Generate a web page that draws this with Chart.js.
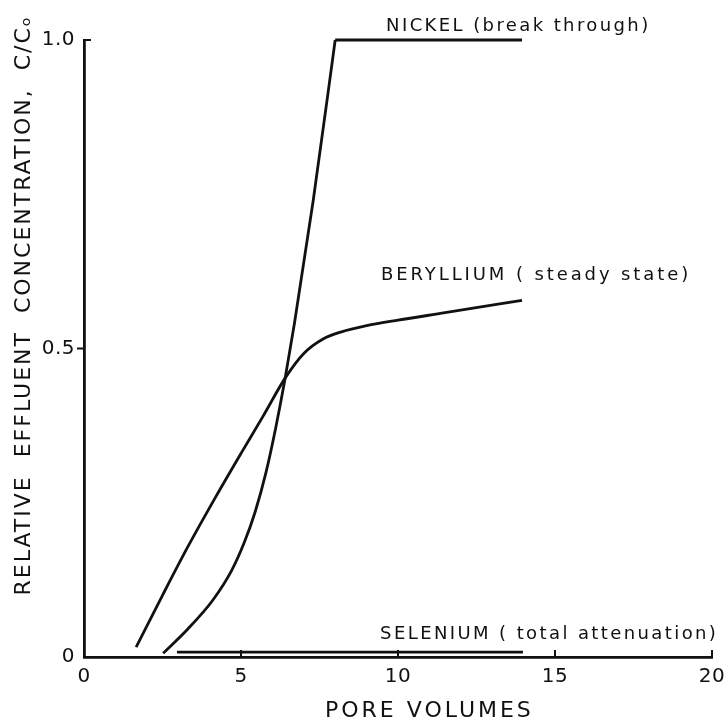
<!DOCTYPE html>
<html>
<head>
<meta charset="utf-8">
<script src="https://cdn.jsdelivr.net/npm/chart.js@4.4.1/dist/chart.umd.min.js"></script>
<style>
  html, body { margin: 0; padding: 0; background: #fff; }
</style>
</head>
<body>
<canvas id="chart" width="726" height="724"></canvas>
<script>
// values (pore volumes vs C/Co)
const nickelX = [2.52, 3.3, 4.1, 4.7, 5.1, 5.45, 5.8, 6.1, 6.4, 6.7, 7.3, 8.0];
const nickelY = [0.006, 0.045, 0.092, 0.14, 0.185, 0.235, 0.3, 0.37, 0.45, 0.54, 0.74, 1.0];
const nickelPlateauX = [8.0, 13.95];
const nickelPlateauY = [1.0, 1.0];
const berylliumX = [1.66, 2.5, 3.3, 4.2, 5.0, 5.7, 6.43, 7.0, 7.6, 8.2, 9.0, 10.0, 11.5, 13.95];
const berylliumY = [0.016, 0.1, 0.178, 0.26, 0.33, 0.39, 0.454, 0.492, 0.515, 0.527, 0.537, 0.546, 0.558, 0.578];
const seleniumX = [2.96, 13.98];
const seleniumY = [0.008, 0.008];

const xTicks = [0, 5, 10, 15, 20];
const yTicks = [0, 0.5, 1.0];
const yTickLabels = ['0', '0.5', '1.0'];

const xTitle = 'PORE VOLUMES';
const yTitle = 'RELATIVE  EFFLUENT  CONCENTRATION,  C/C\u2092';

// curve labels, anchored at [x, y] in data units
const curveLabels = ['NICKEL (break through)', 'BERYLLIUM ( steady state)', 'SELENIUM ( total attenuation)'];
const curveLabelAt = [[9.62, 1.022], [9.46, 0.619], [9.43, 0.037]];

const pts = (xs, ys) => xs.map((x, i) => ({ x: x, y: ys[i] }));

const ink = '#111';
const font = 'DejaVu Sans';

const lineStyle = {
  borderColor: ink,
  borderWidth: 2.8,
  pointRadius: 0,
  showLine: true,
  fill: false,
  clip: 8
};

const spacing = {
  id: 'spacing',
  beforeDraw(chart) {
    chart.ctx.letterSpacing = '0.5px';
  }
};

const extras = {
  id: 'extras',
  afterDraw(chart) {
    const ctx = chart.ctx;
    const xs = chart.scales.x;
    const ys = chart.scales.y;
    ctx.save();
    ctx.strokeStyle = ink;
    ctx.lineWidth = 2;
    // inward ticks on the pore volume axis
    xTicks.forEach(v => {
      if (v === 0) return;
      const px = xs.getPixelForValue(v);
      ctx.beginPath();
      ctx.moveTo(px, ys.bottom);
      ctx.lineTo(px, ys.bottom - 7);
      ctx.stroke();
    });
    // inward tick at 1.0
    const top = ys.getPixelForValue(1.0);
    ctx.beginPath();
    ctx.moveTo(xs.left, top);
    ctx.lineTo(xs.left + 7, top);
    ctx.stroke();

    ctx.fillStyle = ink;
    ctx.textAlign = 'left';
    ctx.textBaseline = 'middle';
    ctx.font = '18px "' + font + '"';
    curveLabels.forEach((t, i) => {
      ctx.letterSpacing = i === 1 ? '2.9px' : '2.4px';
      ctx.fillText(t, xs.getPixelForValue(curveLabelAt[i][0]), ys.getPixelForValue(curveLabelAt[i][1]));
    });

    // axis titles
    ctx.textAlign = 'center';
    ctx.font = '22px "' + font + '"';
    ctx.letterSpacing = '3px';
    ctx.fillText(xTitle, xs.getPixelForValue(11), 711);

    ctx.letterSpacing = '2px';
    ctx.translate(24, ys.getPixelForValue(0.57));
    ctx.rotate(-Math.PI / 2);
    ctx.fillText(yTitle, 0, 0);
    ctx.restore();
  }
};

new Chart(document.getElementById('chart'), {
  type: 'scatter',
  data: {
    datasets: [
      Object.assign({ label: 'Nickel', data: pts(nickelX, nickelY), cubicInterpolationMode: 'monotone' }, lineStyle),
      Object.assign({ label: 'Nickel plateau', data: pts(nickelPlateauX, nickelPlateauY), tension: 0 }, lineStyle),
      Object.assign({ label: 'Beryllium', data: pts(berylliumX, berylliumY), cubicInterpolationMode: 'monotone' }, lineStyle),
      Object.assign({ label: 'Selenium', data: pts(seleniumX, seleniumY), tension: 0 }, lineStyle)
    ]
  },
  options: {
    responsive: false,
    animation: false,
    layout: { padding: { top: 40, right: 14, left: 0, bottom: 0 } },
    plugins: {
      legend: { display: false },
      tooltip: { enabled: false }
    },
    scales: {
      x: {
        type: 'linear',
        min: 0,
        max: 20,
        afterBuildTicks: (scale) => { scale.ticks = xTicks.map(v => ({ value: v })); },
        afterFit: (scale) => {
          scale.height = 67;
          scale.paddingLeft = 0;
          scale.paddingRight = 0;
        },
        ticks: {
          color: ink,
          font: { family: font, size: 20 },
          padding: 8,
          maxRotation: 0
        },
        grid: { display: true, drawOnChartArea: false, drawTicks: false },
        border: { display: true, color: ink, width: 2.8 },
        title: { display: false }
      },
      y: {
        type: 'linear',
        min: 0,
        max: 1,
        afterBuildTicks: (scale) => { scale.ticks = yTicks.map(v => ({ value: v })); },
        afterFit: (scale) => { scale.width = 84; },
        ticks: {
          color: ink,
          font: { family: font, size: 20 },
          padding: 2,
          callback: (v) => yTickLabels[yTicks.indexOf(v)]
        },
        grid: {
          display: true,
          drawOnChartArea: false,
          tickLength: 7,
          tickWidth: 2,
          tickColor: (c) => (c.tick && c.tick.value === 0.5 ? ink : 'transparent')
        },
        border: { display: true, color: ink, width: 2.8 },
        title: { display: false }
      }
    }
  },
  plugins: [spacing, extras]
});
</script>
</body>
</html>
